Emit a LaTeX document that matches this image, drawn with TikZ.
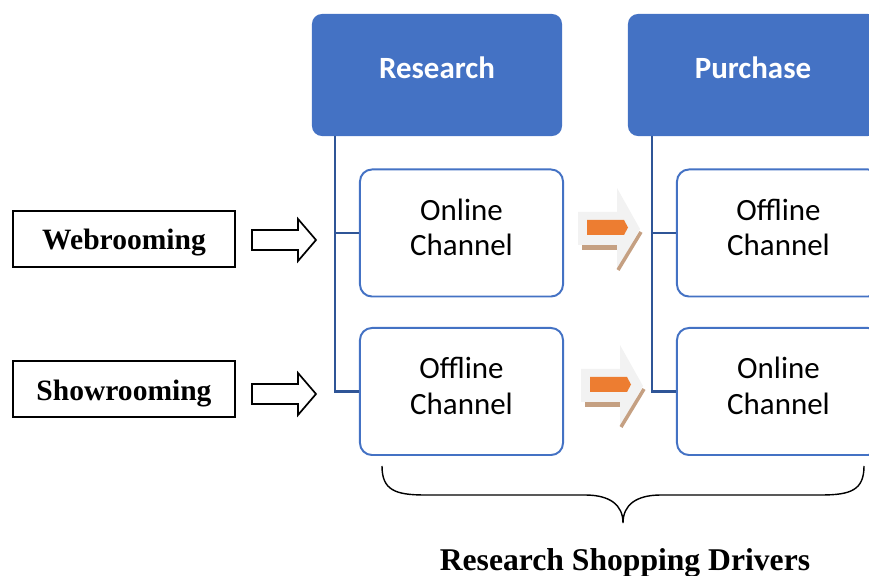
\documentclass[tikz,border=0pt]{standalone}
\usepackage{fontspec}
\setmainfont{Liberation Serif}
\newfontfamily\calibri{Carlito}
\usepackage{tikz}
\usetikzlibrary{positioning}
\definecolor{headblue}{RGB}{68,114,196}
\definecolor{stemblue}{RGB}{47,85,151}
\definecolor{arrowgray}{RGB}{242,242,242}
\definecolor{arrowbrown}{RGB}{197,160,130}
\definecolor{arroworange}{RGB}{237,125,49}

\begin{document}
\begin{tikzpicture}[x=0.025cm, y=-0.025cm,
    header/.style={fill=headblue, rounded corners=0.25cm, minimum width=6.25cm, minimum height=3.05cm,
        text=white, font=\calibri\bfseries\fontsize{22}{25}\selectfont, text height=0.5cm, text depth=0.335cm},
    channel/.style={draw=headblue, line width=1.4pt, fill=white, rounded corners=0.3cm,
        minimum width=5.075cm, minimum height=3.175cm, align=center,
        font=\calibri\fontsize{22}{25.3}\selectfont, text height=1.4cm, text depth=0.265cm},
    mode/.style={draw, line width=1.2pt, minimum width=5.55cm, minimum height=1.4cm,
        font=\bfseries\fontsize{21}{24}\selectfont, text height=0.55cm, text depth=0pt},
    stem/.style={draw=stemblue, line width=1.6pt}]
    \clip (0,0) rectangle (869,576);
    % stage headers
    \node[header] (research) at (437,75) {Research};
    \node[header] (purchase) at (753,75) {Purchase};
    % channel boxes
    \node[channel] (resonline) at (461.5,233) {Online\\Channel};
    \node[channel] (resoffline) at (461.5,391.5) {Offline\\Channel};
    \node[channel] (puroffline) at (778.5,233) {Offline\\Channel};
    \node[channel] (puronline) at (778.5,391.5) {Online\\Channel};
    \draw[stem] ([xshift=0.575cm]research.south west) |- (resonline.west);
    \draw[stem] ([xshift=0.575cm]research.south west) |- (resoffline.west);
    \draw[stem] ([xshift=0.6cm]purchase.south west) |- (puroffline.west);
    \draw[stem] ([xshift=0.6cm]purchase.south west) |- (puronline.west);
    % behaviours
    \node[mode] (webrooming) at (124,239) {Webrooming};
    \node[mode] (showrooming) at (124,389) {Showrooming};
    \foreach \ay in {240,394}
        \draw[line width=1.2pt] (252,\ay-10) -- (298,\ay-10) -- (298,\ay-21) -- (316,\ay)
            -- (298,\ay+21) -- (298,\ay+10) -- (252,\ay+10) -- cycle;
    % orange arrows between stages
    \foreach \ox/\oy in {0/0,3/157} {
        \begin{scope}[shift={(\ox,\oy)}]
            \fill[arrowgray] (578,212) -- (617,212) -- (617,188) -- (640,229) -- (617,269)
                -- (617,245) -- (578,245) -- cycle;
            \fill[arrowbrown] (582,245) rectangle (617,250);
            \draw[arrowbrown, line width=2.5pt] (618,270) -- (641,232);
            \fill[arroworange] (587,220) -- (624,220) -- (628,227.5) -- (624,235) -- (587,235) -- cycle;
        \end{scope}
    }
    % brace and caption
    \draw[line width=1pt] (382,466) .. controls (382,490) and (395,495) .. (425,495) -- (585,495)
        .. controls (610,495) and (623,505) .. (623,523) .. controls (623,505) and (636,495) .. (661,495)
        -- (821,495) .. controls (851,495) and (864,490) .. (864,466);
    \node[anchor=base, font=\bfseries\fontsize{22.5}{26}\selectfont] (drivers) at (625,570.5) {Research Shopping Drivers};
\end{tikzpicture}
\end{document}
